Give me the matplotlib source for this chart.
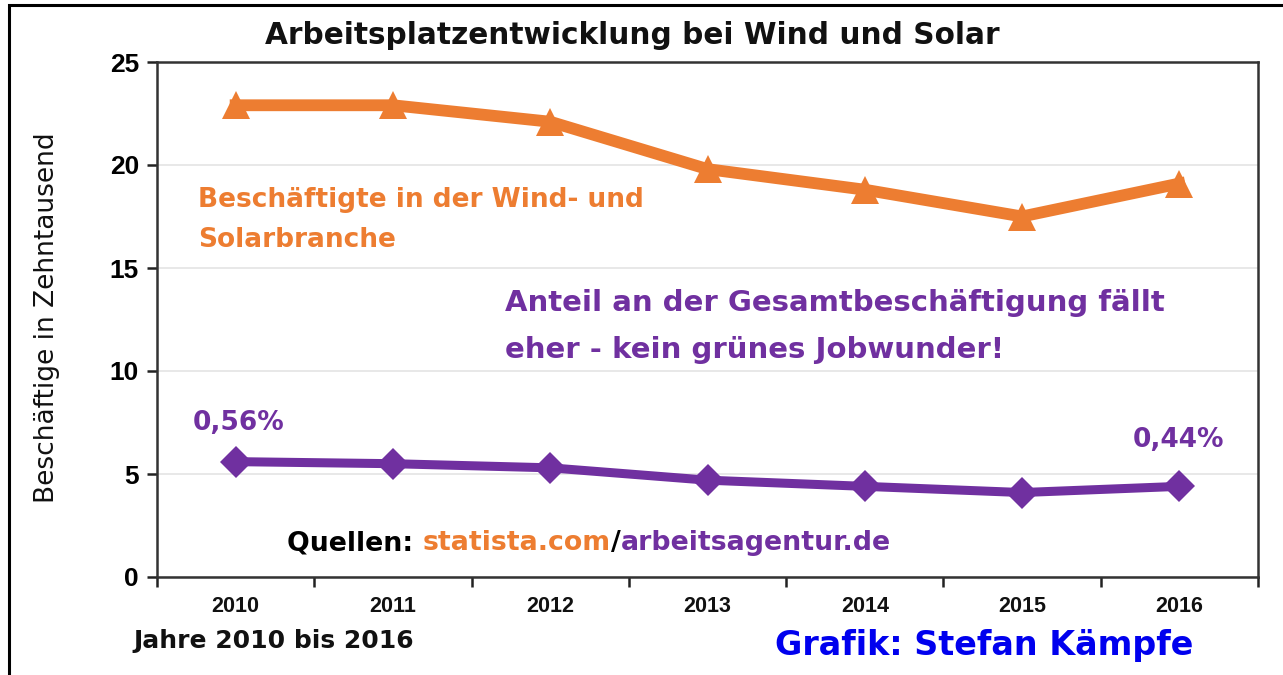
import matplotlib
matplotlib.use("Agg")
import matplotlib.pyplot as plt
from matplotlib.patches import Rectangle
from matplotlib.ticker import FixedLocator

years = ["2010", "2011", "2012", "2013", "2014", "2015", "2016"]
wind_solar = [22.9, 22.9, 22.1, 19.8, 18.8, 17.5, 19.1]
share_x10 = [5.6, 5.5, 5.3, 4.7, 4.4, 4.1, 4.4]
y_ticks = [0, 5, 10, 15, 20, 25]

ORANGE = "#ED7D31"
PURPLE = "#7030A0"
LIB = ["Liberation Sans", "DejaVu Sans"]
DJ = ["DejaVu Sans"]
plt.rcParams["font.family"] = LIB

fig = plt.figure(figsize=(12.83, 6.75), dpi=100)
fig.patch.set_facecolor("white")
# outer frame
fig.add_artist(Rectangle((9 / 1283, -0.05), 1.2, 1 - 5 / 675 + 0.05,
                         transform=fig.transFigure, fill=False,
                         edgecolor="black", linewidth=2.2))

ax = fig.add_axes([157 / 1283, 1 - 577 / 675, (1258 - 157) / 1283, (577 - 62) / 675])
x = list(range(len(years)))
ax.plot(x, wind_solar, color=ORANGE, lw=8.5, marker="^", ms=20,
        markeredgewidth=0, solid_joinstyle="round", zorder=3)
ax.plot(x, share_x10, color=PURPLE, lw=6.5, marker="D", ms=16,
        markeredgewidth=0, solid_joinstyle="round", zorder=3)

ax.set_xlim(-0.5, len(years) - 0.5)
ax.set_ylim(0, 25)
ax.set_yticks(y_ticks)
ax.set_yticklabels([str(v) for v in y_ticks], fontsize=19, fontweight="bold")
ax.set_xticks(x)
ax.set_xticklabels(years, fontsize=15.5, fontweight="bold", color="#111111")
ax.tick_params(axis="x", which="major", length=0, pad=14)
ax.xaxis.set_minor_locator(FixedLocator([i + 0.5 for i in range(-1, len(years))]))
ax.tick_params(axis="x", which="minor", length=7, width=1.8, direction="out", color="#222222")
ax.tick_params(axis="y", length=7, width=1.8, direction="out", color="#222222", pad=6)
for s in ax.spines.values():
    s.set_color("#333333")
    s.set_linewidth(1.8)
ax.grid(axis="y", color="#E4E4E4", lw=1.2, zorder=0)
ax.set_axisbelow(True)

fig.text(47 / 1283, 1 - 318 / 675, "Beschäftige in Zehntausend", rotation=90,
         ha="center", va="center", fontsize=19, family=DJ, color="#111111")
fig.text(632 / 1283, 1 - 36 / 675, "Arbeitsplatzentwicklung bei Wind und Solar",
         ha="center", va="center", fontsize=21.3, fontweight="bold", family=DJ,
         color="#111111")
fig.text(133 / 1283, 1 - 641 / 675, "Jahre 2010 bis 2016", ha="left", va="center",
         fontsize=18, fontweight="bold", family=DJ, color="#111111")
fig.text(775 / 1283, 1 - 645 / 675, "Grafik: Stefan Kämpfe", ha="left", va="center",
         fontsize=24, fontweight="bold", family=DJ, color="#0000EE")

fig.text(198 / 1283, 1 - 200 / 675, "Beschäftigte in der Wind- und", ha="left",
         va="center", fontsize=19, fontweight="bold", family=DJ, color=ORANGE)
fig.text(198 / 1283, 1 - 240 / 675, "Solarbranche", ha="left",
         va="center", fontsize=19, fontweight="bold", family=DJ, color=ORANGE)
fig.text(505 / 1283, 1 - 303 / 675, "Anteil an der Gesamtbeschäftigung fällt", ha="left",
         va="center", fontsize=21, fontweight="bold", family=DJ, color=PURPLE)
fig.text(505 / 1283, 1 - 350 / 675, "eher - kein grünes Jobwunder!", ha="left",
         va="center", fontsize=21, fontweight="bold", family=DJ, color=PURPLE)

fig.text(239 / 1283, 1 - 423 / 675, "0,56%", ha="center", va="center",
         fontsize=19, fontweight="bold", family=DJ, color=PURPLE)
fig.text(1179 / 1283, 1 - 440 / 675, "0,44%", ha="center", va="center",
         fontsize=19, fontweight="bold", family=DJ, color=PURPLE)

# Quellen line built piece by piece
qy = 1 - 543 / 675
kw = dict(ha="left", va="center", fontsize=19.3, fontweight="bold", family=DJ)
t1 = fig.text(287 / 1283, qy, "Quellen: ", color="black", **kw)
fig.canvas.draw()
r = fig.canvas.get_renderer()
bb = t1.get_window_extent(r)
t2 = fig.text(bb.x1 / fig.bbox.width, qy, "statista.com", color=ORANGE, **kw)
bb = t2.get_window_extent(r)
t3 = fig.text(bb.x1 / fig.bbox.width, qy, "/", color="black", **kw)
bb = t3.get_window_extent(r)
fig.text(bb.x1 / fig.bbox.width, qy, "arbeitsagentur.de", color=PURPLE, **kw)

fig.savefig("out.png", dpi=100)
